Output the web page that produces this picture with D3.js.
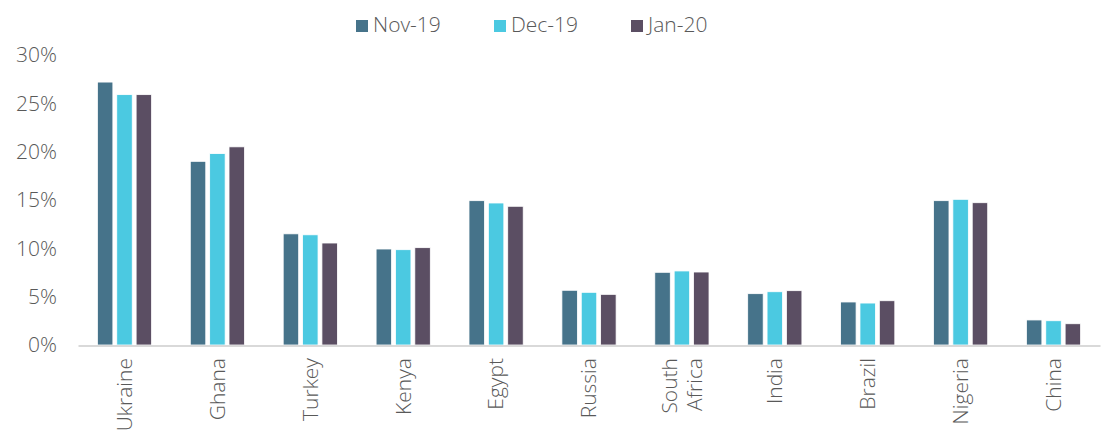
<!DOCTYPE html>
<html><head><meta charset="utf-8">
<script src="https://cdn.jsdelivr.net/npm/d3@7"></script>
<style>body{margin:0;background:#fff}svg{display:block}text{font-family:"Open Sans",sans-serif;font-weight:300;fill:#595959}</style>
</head><body><svg id="c" width="1101" height="430"></svg>
<script>
const categories = ["Ukraine","Ghana","Turkey","Kenya","Egypt","Russia","South Africa","India","Brazil","Nigeria","China"];
const seriesNames = ["Nov-19","Dec-19","Jan-20"];
const nov19 = [27.2,19.0,11.5,9.93,14.93,5.66,7.52,5.31,4.45,14.93,2.59];
const dec19 = [25.9,19.8,11.4,9.86,14.69,5.45,7.66,5.51,4.34,15.07,2.51];
const jan20 = [25.9,20.5,10.55,10.07,14.35,5.24,7.55,5.62,4.58,14.72,2.2];
const yTicks = [0,5,10,15,20,25,30];
const colors = ["#46738a","#4bc9e1","#5b4e63"];

const series = [nov19, dec19, jan20];
const svg = d3.select("#c");
const x = d3.scaleBand().domain(categories).range([78,1100]).paddingInner(0.333).paddingOuter(0.167);
const xs = d3.scaleBand().domain(seriesNames).range([0,x.bandwidth()]).padding(0.2);
const y = d3.scaleLinear().domain([0,30]).range([345,55]);

// y axis labels
const yAxis = d3.axisLeft(y).tickValues(yTicks).tickFormat(d=>d+"%").tickSize(0).tickPadding(0);
const ya = svg.append("g").attr("transform","translate(57,0)").call(yAxis);
ya.select(".domain").remove();
ya.selectAll("text").style("font-size","21px").attr("fill","#595959").style("font-family","'Open Sans',sans-serif").style("font-weight","300");

// bars
const g = svg.append("g");
categories.forEach((c,i)=>{
  seriesNames.forEach((s,j)=>{
    g.append("rect")
      .attr("x", x(c)+xs(s))
      .attr("y", y(series[j][i]))
      .attr("width", xs.bandwidth())
      .attr("height", y(0)-y(series[j][i]))
      .attr("fill", colors[j])
      .attr("stroke","#fff").attr("stroke-width",0.8);
  });
});

// x axis line
const xAxis = d3.axisBottom(x).tickSize(0).tickFormat("");
const xa = svg.append("g").attr("transform","translate(0,345.5)").call(xAxis);
xa.select(".domain").attr("stroke","#d9d9d9").attr("stroke-width",2);

// x labels rotated
categories.forEach(c=>{
  const cx = x(c)+x.bandwidth()/2;
  const lines = c==="South Africa" ? ["South","Africa"] : [c];
  lines.forEach((t,k)=>{
    const off = (k-(lines.length-1)/2)*25;
    svg.append("text")
      .attr("transform",`translate(${cx+off},358) rotate(-90)`)
      .attr("text-anchor","end").attr("dy","0.35em")
      .style("font-size","21px").text(t);
  });
});

// legend
const legX = [356,494,631];
seriesNames.forEach((s,j)=>{
  svg.append("rect").attr("x",legX[j]).attr("y",20).attr("width",12).attr("height",12).attr("fill",colors[j]);
  svg.append("text").attr("x",legX[j]+17).attr("y",32).style("font-size","21px").text(s);
});
</script></body></html>
